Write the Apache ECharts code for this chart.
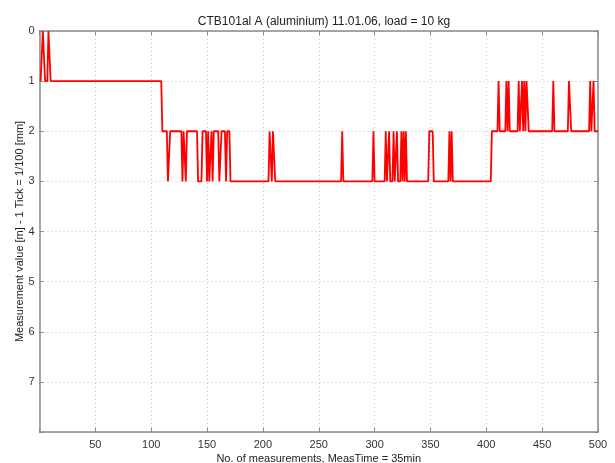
<!DOCTYPE html>
<html>
<head>
<meta charset="utf-8">
<script src="https://cdn.jsdelivr.net/npm/echarts@6/dist/echarts.min.js"></script>
<style>
html,body{margin:0;padding:0;background:#fff;}
#chart{width:615px;height:463px;}
</style>
</head>
<body>
<div id="chart"></div>
<script>
// Change points of the measured signal (measurement no., value); linear between them
var measNo = [1,2,3,4,5,7,8,9,10,109,110,114,115,116,117,127,128,129,130,131,132,141,142,145,146,149,150,151,152,153,154,155,156,160,161,162,163,166,167,168,170,171,205,206,207,208,209,210,211,270,271,272,298,299,300,309,310,311,312,313,314,316,317,318,319,320,321,323,324,325,326,327,328,329,348,349,352,353,366,367,368,369,370,404,405,410,411,412,417,418,419,420,421,428,429,430,431,432,433,434,435,436,437,438,459,460,461,473,474,475,476,492,493,494,495,496,497,500];
var measValue = [1,1,0,0,1,1,0,0,1,1,2,2,3,3,2,2,3,2,2,3,2,2,3,3,2,2,3,2,3,3,2,3,2,2,3,3,2,2,3,2,2,3,3,2,2,3,2,2,3,3,2,3,3,2,3,3,2,3,3,2,3,3,2,3,3,2,3,3,2,3,2,3,2,3,3,2,2,3,3,2,3,2,3,3,2,2,1,2,2,1,2,1,2,2,1,2,2,1,2,1,2,1,1,2,2,1,2,2,1,1,2,2,1,2,2,1,2,2];
var xTicks = [50,100,150,200,250,300,350,400,450,500];
var yTicks = [0,1,2,3,4,5,6,7];
var titleText = 'CTB101al A (aluminium) 11.01.06, load = 10 kg';
var xName = 'No. of measurements, MeasTime = 35min';
var yName = 'Measurement value [m] - 1 Tick = 1/100 [mm]';

var pts = measNo.map(function(x, i){ return [x, measValue[i]]; });
var FONT = 'Liberation Sans, Arial, Helvetica, sans-serif';
var axisCol = '#8a8a8a';
var gridLine = {show:true, lineStyle:{color:'#c4c4c4', type:[1,3], width:1}};

var chart = echarts.init(document.getElementById('chart'), null, {renderer:'canvas'});
chart.setOption({
  backgroundColor:'#fff',
  animation:false,
  title:{text:titleText, left:319, textAlign:'center', top:11,
    textStyle:{fontFamily:FONT, fontSize:12, fontWeight:'normal', color:'#222'}},
  grid:{left:39.5, right:17, top:31, bottom:31, containLabel:false, outerBoundsMode:'none'},
  xAxis:[{
    type:'value', min:0, max:500, interval:50, position:'bottom',
    name:xName, nameLocation:'middle', nameGap:21, nameMoveOverlap:false,
    nameTextStyle:{fontFamily:FONT, fontSize:11, color:'#222'},
    axisLine:{show:true, onZero:false, lineStyle:{color:axisCol, width:1.5}},
    axisTick:{show:true, inside:true, length:4, lineStyle:{color:axisCol}},
    axisLabel:{fontFamily:FONT, fontSize:11, color:'#333', margin:7,
      formatter:function(v){ return xTicks.indexOf(v) >= 0 ? String(v) : ''; }},
    splitLine:gridLine
  },{
    type:'value', min:0, max:500, interval:50, position:'top',
    axisLine:{show:true, onZero:false, lineStyle:{color:axisCol, width:1.5}},
    axisTick:{show:true, inside:true, length:4, lineStyle:{color:axisCol}},
    axisLabel:{show:false}, splitLine:{show:false}
  }],
  yAxis:[{
    type:'value', min:0, max:8, interval:1, inverse:true, position:'left',
    name:yName, nameLocation:'middle', nameGap:14, nameMoveOverlap:false,
    nameTextStyle:{fontFamily:FONT, fontSize:11, color:'#222'},
    axisLine:{show:true, onZero:false, lineStyle:{color:axisCol, width:1.5}},
    axisTick:{show:true, inside:true, length:4, lineStyle:{color:axisCol}},
    axisLabel:{fontFamily:FONT, fontSize:11, color:'#333', margin:5,
      formatter:function(v){ return yTicks.indexOf(v) >= 0 ? String(v) : ''; }},
    splitLine:gridLine
  },{
    type:'value', min:0, max:8, interval:1, inverse:true, position:'right',
    axisLine:{show:true, onZero:false, lineStyle:{color:axisCol, width:1.5}},
    axisTick:{show:true, inside:true, length:4, lineStyle:{color:axisCol}},
    axisLabel:{show:false}, splitLine:{show:false}
  }],
  series:[{
    type:'line', xAxisIndex:0, yAxisIndex:0, data:pts,
    showSymbol:false, symbol:'none',
    lineStyle:{color:'#ff0000', width:1.8},
    clip:true
  }]
});
</script>
</body>
</html>
